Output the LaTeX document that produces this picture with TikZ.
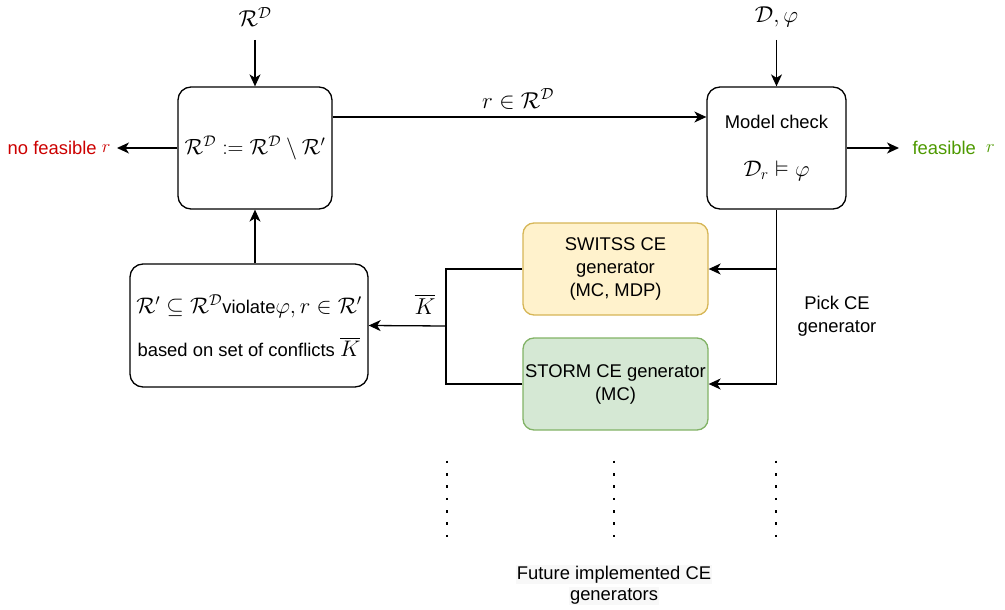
\RequirePackage{fix-cm}
\documentclass[tikz,border=0pt]{standalone}
\usepackage{amsmath,amssymb}
\usepackage{fontspec}
\setmainfont{Liberation Sans}
\usetikzlibrary{arrows.meta}
\definecolor{swfill}{HTML}{FFF2CC}
\definecolor{swline}{HTML}{D6B656}
\definecolor{stfill}{HTML}{D5E8D4}
\definecolor{stline}{HTML}{82B366}
\definecolor{nored}{HTML}{CC0000}
\definecolor{yesgreen}{HTML}{4D9900}
\definecolor{labelbg}{HTML}{F8F8F8}
% larger math inside ordinary text lines
\newcommand{\inlinemath}[1]{{\fontsize{22.5}{26}\selectfont$#1$}}
\begin{document}
\begin{tikzpicture}[x=1pt,y=-1pt,
  every node/.style={font=\fontsize{18.4}{23}\selectfont, align=center},
  proc/.style={draw, line width=1.3pt, rounded corners=13pt, fill=white, inner sep=2pt},
  gen/.style={draw, line width=1.3pt, rounded corners=11pt, minimum width=185pt, minimum height=92pt, inner sep=1pt},
  conn/.style={line width=1.3pt},
  arr/.style={conn, -{Stealth[length=12pt,width=11pt,inset=3.5pt]}},
  dotcol/.style={line width=2.6pt, dash pattern=on 2.6pt off 9.75pt},
  mth/.style={font=\fontsize{23}{27}\selectfont}
]
\useasboundingbox (0,0) rectangle (1005,610);

% main loop boxes
\node[proc, minimum width=154pt, minimum height=122pt, inner sep=0pt, font=\fontsize{22}{26}\selectfont] (upd) at (255,148)
  {$\mathcal{R}^{\mathcal{D}} \mathrel{:=} \mathcal{R}^{\mathcal{D}} \setminus \mathcal{R}'$};
\node[proc, minimum width=139pt, minimum height=122pt] (mc) at (776.5,148)
  {Model check\\[25pt]\inlinemath{\mathcal{D}_r \vDash \varphi}};
\node[proc, minimum width=238pt, minimum height=123pt] (conf) at (249,325.5)
  {\inlinemath{\mathcal{R}' \subseteq \mathcal{R}^{\mathcal{D}}}violate\inlinemath{\varphi, r \in \mathcal{R}'}\\[18pt]
   based on set of conflicts \inlinemath{\overline{K}}};

% counterexample generators
\node[gen, fill=swfill, draw=swline] (sw) at (615.5,269) {SWITSS CE\\generator\\(MC, MDP)};
\node[gen, fill=stfill, draw=stline] (st) at (615.5,384) {STORM CE generator\\(MC)};

% inputs
\node[mth] (inR) at (255,17) {$\mathcal{R}^{\mathcal{D}}$};
\node[mth] (inD) at (776.5,17) {$\mathcal{D}, \varphi$};
\coordinate (inRend) at (255,40);
\coordinate (inDend) at (776.5,40);
\draw[arr] (inRend) -- (upd.north);
\draw[arr] (inDend) -- (mc.north);

% outputs
\node[text=nored, anchor=east] (nofeas) at (114,148) {no feasible \raisebox{2pt}{$r$}};
\coordinate (nofeasend) at (117,148);
\draw[arr] (upd.west) -- (nofeasend);
\coordinate (feasend) at (899,148);
\node[text=yesgreen, anchor=west] (feas) at (909,148) {feasible~ \raisebox{2pt}{$r$}};
\draw[arr] (mc.east) -- (feasend);

% candidate to model checker
\coordinate (toprow) at (0,117);
\draw[arr] (upd.east |- toprow) -- (mc.west |- toprow);
\node[mth] (rlab) at (518,99) {$r \in \mathcal{R}^{\mathcal{D}}$};

% pick a generator
\draw[arr] (mc.south) |- (st.east);
\draw[arr] (mc.south |- sw.east) -- (sw.east);
\node (pick) at (837,316) {Pick CE\\generator};

% conflicts back to the loop
\coordinate (jn) at (446,326);
\draw[conn] (sw.west) -| (jn);
\draw[conn] (st.west) -| (jn);
\draw[arr] (jn) -- (conf.east);
\node[mth] (klab) at (425,304) {$\overline{K}$};
\draw[arr] (upd.south |- conf.north) -- (upd.south);

% further generators
\draw[dotcol] (447,460.7) -- (447,537.5);
\draw[dotcol] (614,460.7) -- (614,537.5);
\draw[dotcol] (776,460.7) -- (776,537.5);
\node[inner sep=0pt] (future) at (614,585)
  {\setlength{\fboxsep}{1pt}\colorbox{labelbg}{Future implemented CE}\\[-2pt]\setlength{\fboxsep}{1pt}\colorbox{labelbg}{generators}};
\end{tikzpicture}
\end{document}
